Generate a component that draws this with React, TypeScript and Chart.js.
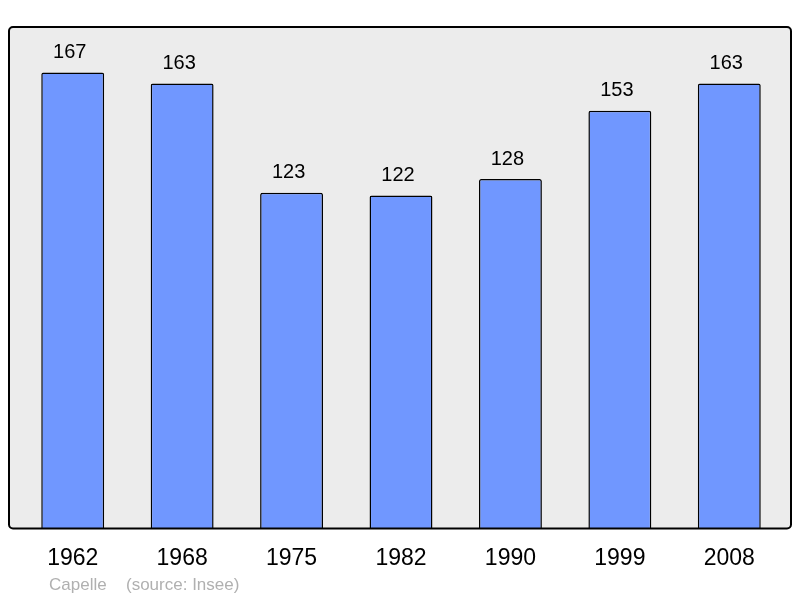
import React, { useEffect, useRef } from "react";
import { Chart, registerables } from "chart.js";

Chart.register(...registerables);

const years = ["1962", "1968", "1975", "1982", "1990", "1999", "2008"];
const population = [167, 163, 123, 122, 128, 153, 163];
const townName = "Capelle";
const sourceText = "(source: Insee)";

const FONT = "'Liberation Sans', Arial, sans-serif";

function roundRect(ctx: CanvasRenderingContext2D, x: number, y: number, w: number, h: number, r: number) {
  ctx.beginPath();
  ctx.moveTo(x + r, y);
  ctx.lineTo(x + w - r, y);
  ctx.arcTo(x + w, y, x + w, y + r, r);
  ctx.lineTo(x + w, y + h - r);
  ctx.arcTo(x + w, y + h, x + w - r, y + h, r);
  ctx.lineTo(x + r, y + h);
  ctx.arcTo(x, y + h, x, y + h - r, r);
  ctx.lineTo(x, y + r);
  ctx.arcTo(x, y, x + r, y, r);
  ctx.closePath();
}

const boxPlugin = {
  id: "boxPlugin",
  beforeDatasetsDraw(chart: any) {
    const { ctx, chartArea } = chart;
    ctx.save();
    roundRect(ctx, chartArea.left - 9, chartArea.top, chartArea.right - chartArea.left + 16, chartArea.bottom - chartArea.top, 4);
    ctx.fillStyle = "#ececec";
    ctx.fill();
    ctx.restore();
  },
  afterDatasetsDraw(chart: any) {
    const { ctx, chartArea } = chart;
    ctx.save();
    roundRect(ctx, chartArea.left - 9, chartArea.top, chartArea.right - chartArea.left + 16, chartArea.bottom - chartArea.top, 4);
    ctx.strokeStyle = "#000";
    ctx.lineWidth = 2;
    ctx.stroke();
    // value labels
    const meta = chart.getDatasetMeta(0);
    ctx.fillStyle = "#000";
    ctx.font = `20px ${FONT}`;
    ctx.textAlign = "center";
    ctx.textBaseline = "middle";
    meta.data.forEach((bar: any, i: number) => {
      ctx.fillText(String(chart.data.datasets[0].data[i]), bar.x - 3, bar.y - 20);
    });
    // footer
    ctx.fillStyle = "#b0b0b0";
    ctx.font = `17px ${FONT}`;
    ctx.textAlign = "left";
    ctx.textBaseline = "alphabetic";
    ctx.fillText(townName, chartArea.left + 31, 590);
    ctx.fillText(sourceText, chartArea.left + 108, 590);
    ctx.restore();
  },
};

export default function App() {
  const ref = useRef<HTMLCanvasElement>(null);
  useEffect(() => {
    document.body.style.margin = "0";
    const chart = new Chart(ref.current!, {
      type: "bar",
      data: {
        labels: years,
        datasets: [
          {
            data: population,
            backgroundColor: "#7097ff",
            borderColor: "#000",
            borderWidth: 1.5,
            borderRadius: { topLeft: 2, topRight: 2, bottomLeft: 0, bottomRight: 0 },
            borderSkipped: "bottom",
            barPercentage: 0.575,
            categoryPercentage: 1,
          },
        ],
      },
      options: {
        animation: false,
        responsive: false,
        layout: { padding: { left: 18, right: 16, top: 27, bottom: 18 } },
        plugins: { legend: { display: false }, tooltip: { enabled: false } },
        scales: {
          x: {
            grid: { display: false },
            border: { display: false },
            ticks: { color: "#000", font: { size: 23, family: FONT }, padding: 8 },
          },
          y: {
            display: false,
            min: 0,
            max: 183.7,
          },
        },
      },
      plugins: [boxPlugin],
    });
    return () => chart.destroy();
  }, []);
  return <canvas ref={ref} width={800} height={598} style={{ display: "block" }} />;
}
